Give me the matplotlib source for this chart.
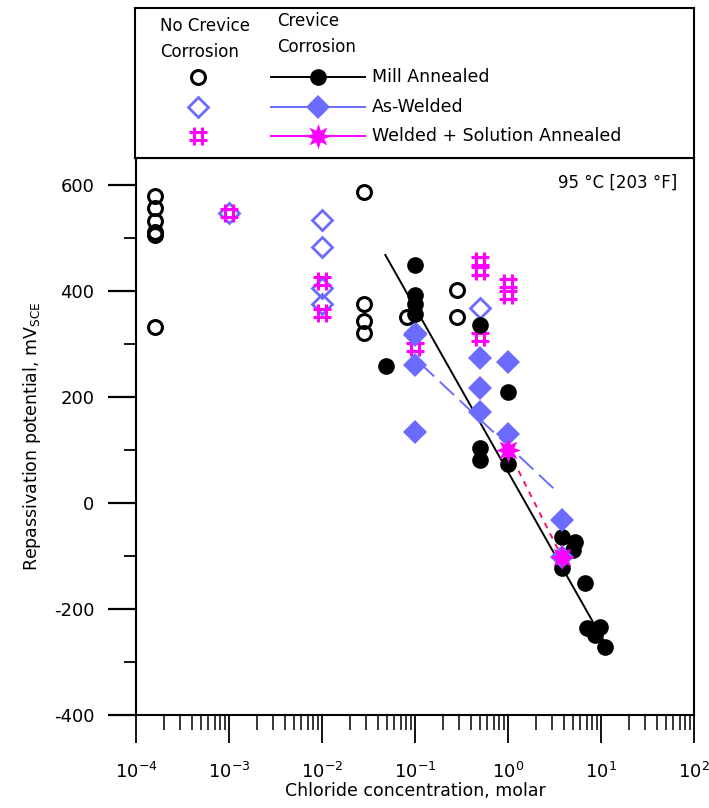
import matplotlib
matplotlib.use('Agg')
import matplotlib.pyplot as plt
import matplotlib.ticker as plticker
from matplotlib.path import Path
from matplotlib.lines import Line2D

plt.rcParams['font.family'] = ['DejaVu Sans']
plt.rcParams['axes.unicode_minus'] = False

# Colours
BLUE    = '#6b6bff'
MAGENTA = '#ff00ff'
REDMAG  = '#ff1060'

# No crevice corrosion (open symbols)
mill_open_x = [1.6e-4, 1.6e-4, 1.6e-4, 1.6e-4, 1.6e-4, 1.6e-4,
               0.028, 0.028, 0.028, 0.028, 0.082, 0.28, 0.28]
mill_open_y = [579, 557, 532, 512, 505, 332,
               587, 375, 343, 321, 351, 402, 351]

aw_open_x = [1e-3, 0.01, 0.01, 0.01, 0.01, 0.1, 0.5]
aw_open_y = [547, 534, 483, 405, 375, 320, 368]

sa_open_x = [1e-3, 0.01, 0.01, 0.1, 0.5, 0.5, 0.5, 1.0, 1.0]
sa_open_y = [547, 419, 358, 294, 456, 438, 313, 415, 393]

# Crevice corrosion (filled symbols)
mill_x = [0.049, 0.1, 0.1, 0.1, 0.1, 0.5, 0.5, 0.5, 1.0, 1.0,
          3.8, 5.2, 5.0, 3.8, 6.7, 7.0, 9.8, 8.6, 11.0]
mill_y = [258, 449, 392, 375, 357, 336, 104, 81, 209, 74,
          -64, -74, -89, -123, -151, -236, -234, -249, -272]

aw_x = [0.1, 0.1, 0.1, 0.5, 0.5, 0.5, 1.0, 1.0, 3.8, 3.8]
aw_y = [317, 260, 134, 274, 217, 172, 266, 130, -32, -102]

sa_x = [1.0, 3.8]
sa_y = [100, -102]

# Fitted lines (end points)
mill_fit_x = [0.048, 10.5]
mill_fit_y = [468, -258]
aw_fit_x = [0.113, 3.2]
aw_fit_y = [264, 25]
sa_fit_x = [1.0, 3.8]
sa_fit_y = [100, -102]

# '#'-like marker for welded + solution annealed (no crevice)
a, b = 0.4, 1.0
hash_verts = [(-b, a), (b, a), (-b, -a), (b, -a),
              (-a, -b), (-a, b), (a, -b), (a, b)]
hash_codes = [Path.MOVETO, Path.LINETO] * 4
HASH = Path(hash_verts, hash_codes)
STAR = (8, 1, 0)

fig = plt.figure(figsize=(7.09, 8.08), dpi=100)
ax = fig.add_axes([136/709, 1 - 715/808, (694-136)/709, (715-158)/808])

# fit lines
ax.plot(mill_fit_x, mill_fit_y, color='black', lw=1.4, zorder=2)
ax.plot(aw_fit_x, aw_fit_y, color=BLUE, lw=1.4, ls=(0, (10, 4)), zorder=2)
ax.plot(sa_fit_x, sa_fit_y, color=REDMAG, lw=1.4, ls=(0, (3, 3)), zorder=2)

# open symbols
ax.plot(mill_open_x, mill_open_y, ls='none', marker='o', ms=10, mew=2.2,
        mfc='none', mec='black', zorder=3)
ax.plot(aw_open_x, aw_open_y, ls='none', marker='D', ms=10, mew=2,
        mfc='none', mec=BLUE, zorder=3)
ax.plot(sa_open_x, sa_open_y, ls='none', marker=HASH, ms=13, mew=2.2,
        mfc='none', mec=MAGENTA, zorder=3)

# filled symbols
ax.plot(mill_x, mill_y, ls='none', marker='o', ms=12, mew=0,
        mfc='black', zorder=4)
ax.plot(aw_x, aw_y, ls='none', marker='D', ms=12, mew=0,
        mfc=BLUE, zorder=4)
ax.plot(sa_x, sa_y, ls='none', marker=STAR, ms=18, mew=0,
        mfc=MAGENTA, zorder=5)

ax.set_xscale('log')
ax.set_xlim(1e-4, 1e2)
ax.set_ylim(-400, 651)

ax.xaxis.set_major_locator(plticker.LogLocator(base=10, numticks=10))
ax.xaxis.set_minor_locator(plticker.LogLocator(base=10, subs=range(2, 10), numticks=20))
ax.xaxis.set_minor_formatter(plticker.NullFormatter())
ax.yaxis.set_major_locator(plticker.MultipleLocator(200))
ax.yaxis.set_minor_locator(plticker.MultipleLocator(100))

ax.tick_params(axis='x', which='major', direction='out', length=20, width=1.3,
               labelsize=13, pad=14)
ax.tick_params(axis='x', which='minor', direction='out', length=11, width=1.1)
ax.tick_params(axis='y', which='major', direction='out', length=20, width=1.6,
               labelsize=13, pad=10)
ax.tick_params(axis='y', which='minor', direction='out', length=9, width=1.3)
ax.tick_params(top=False, right=False, which='both')

for s in ax.spines.values():
    s.set_linewidth(1.5)

ax.set_xlabel('Chloride concentration, molar', fontsize=12.5, labelpad=0)
ax.set_ylabel(r'Repassivation potential, mV$_{\mathregular{SCE}}$',
              fontsize=12.5, labelpad=8)

ax.text(0.97, 0.955, '95 \u00b0C [203 \u00b0F]', transform=ax.transAxes,
        ha='right', va='center', fontsize=12)

# legend box above the plot
lg = fig.add_axes([135/709, 1 - 158/808, (694-135)/709, (158-8)/808])
lg.set_xlim(135, 694)
lg.set_ylim(158, 8)
lg.set_xticks([])
lg.set_yticks([])
for s in lg.spines.values():
    s.set_linewidth(1.5)

lg.text(160, 39, 'No Crevice\nCorrosion', fontsize=12, va='center', ha='left',
        linespacing=1.6)
lg.text(277, 34, 'Crevice\nCorrosion', fontsize=12, va='center', ha='left',
        linespacing=1.6)

labels = ['Mill Annealed', 'As-Welded', 'Welded + Solution Annealed']
rows_y = [77, 107, 136]
lg.add_line(Line2D([198], [77], ls='none', marker='o', ms=10, mew=2.2,
                   mfc='none', mec='black'))
lg.add_line(Line2D([198], [107], ls='none', marker='D', ms=10, mew=2,
                   mfc='none', mec=BLUE))
lg.add_line(Line2D([198], [136], ls='none', marker=HASH, ms=13, mew=2.2,
                   mfc='none', mec=MAGENTA))
lg.add_line(Line2D([271, 365], [77, 77], color='black', lw=1.4))
lg.add_line(Line2D([318], [77], ls='none', marker='o', ms=12, mfc='black', mew=0))
lg.add_line(Line2D([271, 365], [107, 107], color=BLUE, lw=1.4))
lg.add_line(Line2D([318], [107], ls='none', marker='D', ms=12, mfc=BLUE, mew=0))
lg.add_line(Line2D([271, 365], [136, 136], color=MAGENTA, lw=1.4))
lg.add_line(Line2D([318], [136], ls='none', marker=STAR, ms=18, mfc=MAGENTA, mew=0))
for label, yy in zip(labels, rows_y):
    lg.text(372, yy, label, fontsize=12.5, va='center', ha='left')

fig.savefig('out.png', dpi=100)
